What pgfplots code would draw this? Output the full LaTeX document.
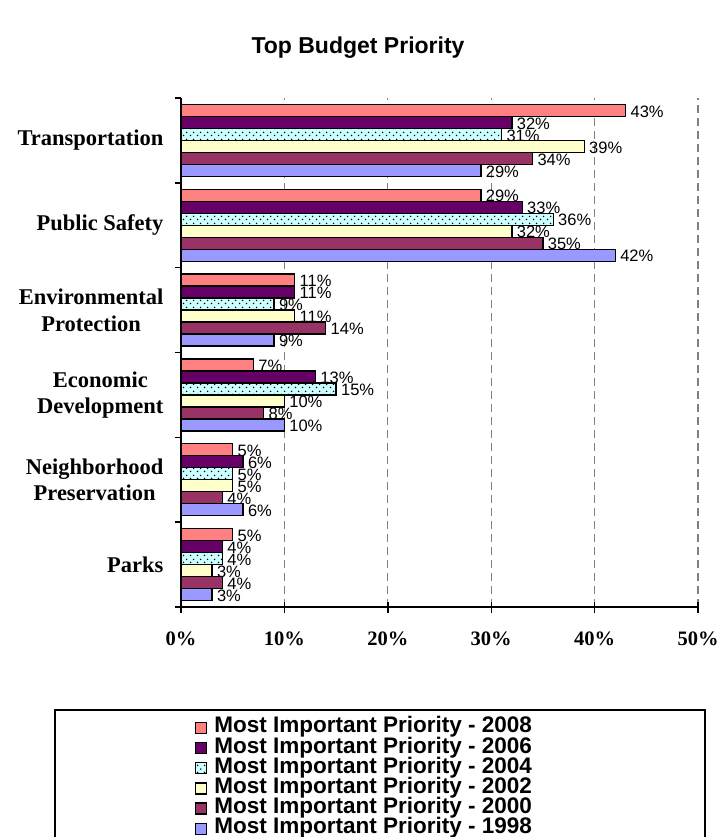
\documentclass[border=0pt]{standalone}
\usepackage{fontspec}
\setmainfont{Liberation Serif}
\setsansfont{Liberation Sans}
\usepackage{pgfplots}
\usepackage{pgfplotstable}
\usetikzlibrary{patterns}
\pgfplotsset{compat=1.18}

\definecolor{c2008}{RGB}{255,128,128}
\definecolor{c2006}{RGB}{102,0,102}
\definecolor{c2004}{RGB}{204,255,255}
\definecolor{c2002}{RGB}{255,255,204}
\definecolor{c2000}{RGB}{153,51,102}
\definecolor{c1998}{RGB}{153,153,255}
\definecolor{gridgray}{RGB}{128,128,128}

% dotted fill of the 2004 series
\pgfdeclarepatternformonly{sparsedots}{\pgfqpoint{0pt}{0pt}}{\pgfqpoint{7pt}{7pt}}{\pgfqpoint{7pt}{7pt}}{%
  \pgfpathcircle{\pgfqpoint{1.75pt}{1.75pt}}{0.9pt}%
  \pgfpathcircle{\pgfqpoint{5.25pt}{5.25pt}}{0.9pt}%
  \pgfusepath{fill}}

% cat: 5 = Transportation (top) ... 0 = Parks (bottom)
\pgfplotstableread{
cat y2008 y2006 y2004 y2002 y2000 y1998
5 43 32 31 39 34 29
4 29 33 36 32 35 42
3 11 11 9 11 14 9
2 7 13 15 10 8 10
1 5 6 5 5 4 6
0 5 4 4 3 4 3
}\budget

\begin{document}
\begin{tikzpicture}
\useasboundingbox (0,0) rectangle (722pt,-837pt);

\node[font=\sffamily\bfseries\fontsize{23}{27}\selectfont] at (358pt,-48pt) {Top Budget Priority};

\begin{axis}[
  at={(181pt,-607pt)}, anchor=south west,
  scale only axis,
  width=517pt, height=509pt,
  xbar=0pt, bar width=12pt,
  xmin=0, xmax=50,
  ymin=-0.5, ymax=5.5,
  axis lines=left,
  axis line style={-, line width=1.4pt},
  clip=false,
  xtick={0,10,20,30,40,50},
  xticklabels={0\%,10\%,20\%,30\%,40\%,50\%},
  xtick align=center,
  major tick length=11pt,
  xticklabel style={font=\rmfamily\bfseries\fontsize{20.5}{24}\selectfont, yshift=-16pt},
  x tick style={line width=1.4pt, black},
  xmajorgrids,
  major x grid style={gridgray, line width=1.3pt, dash pattern=on 8pt off 5pt},
  ytick={0,1,2,3,4,5},
  yticklabels={Parks, {Neighborhood\\Preservation}, {Economic\\Development}, {Environmental\\Protection}, Public Safety, Transportation},
  yticklabel style={align=center, font=\rmfamily\bfseries\fontsize{22.5}{26.5}\selectfont, xshift=-3pt},
  major y tick style={draw=none},
  minor ytick={-0.5,0.5,1.5,2.5,3.5,4.5,5.5},
  minor tick length=6pt,
  ytick align=outside,
  minor y tick style={line width=1.4pt, black},
  every axis plot/.append style={draw=black, line width=1.3pt},
  nodes near coords={\pgfmathprintnumber[assume math mode=true]{\pgfplotspointmeta}\%},
  every node near coord/.append style={font=\sffamily\fontsize{16.5}{16.5}\selectfont, black, xshift=1pt, yshift=-1pt},
  legend image code/.code={\draw[#1] (0pt,-5.5pt) rectangle (11pt,5.5pt);},
  legend cell align=left,
  legend style={at={(0.027,-0.2170)}, anchor=north west, draw=none, fill=none,
    font=\sffamily\bfseries\fontsize{22.5}{22.5}\selectfont,
    inner sep=0pt, row sep=0pt,
    nodes={inner xsep=7pt, inner ysep=0.2pt, text height=15pt, text depth=4.8pt}},
]
\addplot[fill=c2008, bar shift=30pt] table[x=y2008, y=cat] \budget;
\addplot[fill=c2006, bar shift=18pt] table[x=y2006, y=cat] \budget;
\addplot[fill=c2004, bar shift=6pt, postaction={pattern=sparsedots}] table[x=y2004, y=cat] \budget;
\addplot[fill=c2002, bar shift=-6pt] table[x=y2002, y=cat] \budget;
\addplot[fill=c2000, bar shift=-18pt] table[x=y2000, y=cat] \budget;
\addplot[fill=c1998, bar shift=-30pt] table[x=y1998, y=cat] \budget;
\legend{Most Important Priority - 2008, Most Important Priority - 2006, Most Important Priority - 2004, Most Important Priority - 2002, Most Important Priority - 2000, Most Important Priority - 1998}
\end{axis}

\draw[line width=1.4pt] (55pt,-710pt) rectangle (705pt,-870pt);
\end{tikzpicture}
\end{document}
